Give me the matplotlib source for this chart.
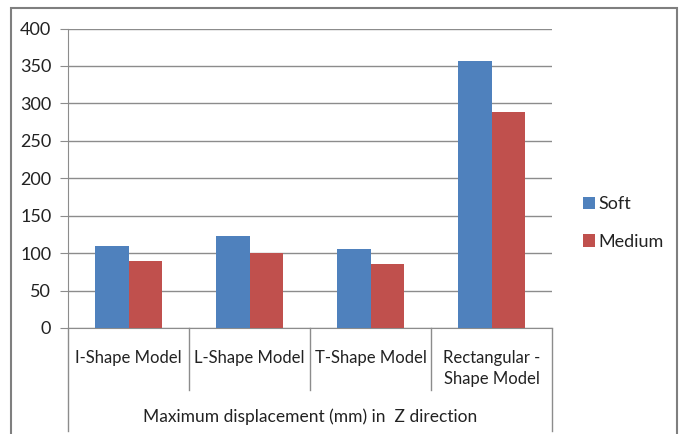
import matplotlib.pyplot as plt
from matplotlib.patches import Rectangle
import numpy as np

plt.rcParams['font.family'] = ['Lato', 'DejaVu Sans']

categories = ['I-Shape Model', 'L-Shape Model', 'T-Shape Model', 'Rectangular -\nShape Model']
soft = [109, 123, 105, 356]
medium = [89, 100, 86, 289]
group_label = 'Maximum displacement (mm) in  Z direction'

blue = '#4F81BD'
red = '#C0504D'
grey = '#8C8C8C'

W, H = 681, 434
fig = plt.figure(figsize=(W / 100, H / 100), dpi=100)
ax = fig.add_axes([68 / W, 1 - 328 / H, (552 - 68) / W, (328 - 28.5) / H])

x = np.arange(len(categories))
bw = 0.28
ax.bar(x - bw / 2, soft, bw, color=blue, label='Soft', zorder=3)
ax.bar(x + bw / 2, medium, bw, color=red, label='Medium', zorder=3)

ax.set_xlim(-0.5, len(categories) - 0.5)
ax.set_ylim(0, 400)
ax.set_yticks(range(0, 401, 50))
ax.yaxis.grid(True, color=grey, lw=1)
ax.set_axisbelow(True)
ax.tick_params(axis='y', length=6, color=grey, labelsize=13, pad=6,
               labelcolor='#222222')
ax.tick_params(axis='x', length=0)
ax.set_xticks([])
for s in ['top', 'right']:
    ax.spines[s].set_visible(False)
for s in ['left', 'bottom']:
    ax.spines[s].set_color(grey)

# category box lines below the axis
tr = ax.get_xaxis_transform()
for d in np.arange(0.5, len(categories) - 1, 1):
    ax.plot([d, d], [0, -0.207], transform=tr, color=grey, lw=1, clip_on=False)
for d in [-0.5, len(categories) - 0.5]:
    ax.plot([d, d], [0, -0.345], transform=tr, color=grey, lw=1, clip_on=False)

for xi, lab in zip(x, categories):
    ax.text(xi, -0.072, lab, transform=tr, ha='center', va='top', fontsize=12,
            linespacing=1.45, color='#222222')
ax.text(np.mean(x), -0.295, group_label, transform=tr, ha='center', va='center',
        fontsize=12.5, color='#222222')

leg = ax.legend(loc='center left', bbox_to_anchor=(1.03, 0.35), frameon=False,
                fontsize=13, handlelength=0.7, handleheight=0.7,
                handletextpad=0.15, labelspacing=1.2)
for t in leg.get_texts():
    t.set_color('#222222')

# outer chart frame
fig.add_artist(Rectangle((11 / W, -0.05), (677 - 11) / W, 1.05 - 8 / H,
                         transform=fig.transFigure, fill=False,
                         edgecolor='#7f7f7f', lw=1.5))

fig.savefig('out.png', dpi=100)
